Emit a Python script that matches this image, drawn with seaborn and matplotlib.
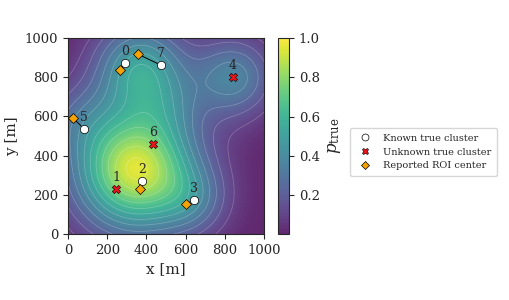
import numpy as np
import pandas as pd
import seaborn as sns
import matplotlib.pyplot as plt
from matplotlib.lines import Line2D

# cluster positions [m]
known_id = [0, 7, 2, 3, 5]
known_x = [291, 474, 378, 643, 82]
known_y = [872, 862, 270, 173, 536]

unknown_id = [1, 4, 6]
unknown_x = [245, 842, 434]
unknown_y = [230, 801, 459]

# reported ROI centres, one per known cluster (same order)
roi_x = [265, 357, 367, 602, 26]
roi_y = [837, 918, 230, 153, 592]

# gaussian bumps making up the p_true field
bump_x = [345, 370, 845, 40, 640, 520]
bump_y = [330, 845, 800, 590, 170, 650]
bump_amp = [0.94, 0.5, 0.36, 0.15, 0.2, 0.1]
bump_sig = [215, 165, 145, 130, 125, 120]

sns.set_style("ticks")
plt.rcParams['font.family'] = ['DejaVu Serif']
plt.rcParams['mathtext.fontset'] = 'dejavuserif'

gx = np.linspace(0, 1000, 201)
X, Y = np.meshgrid(gx, gx)
P = np.zeros_like(X)
for bx, by, a, s in zip(bump_x, bump_y, bump_amp, bump_sig):
    P += a * np.exp(-((X - bx) ** 2 + (Y - by) ** 2) / (2 * s ** 2))
P = np.clip(P, 0, 1)

fig = plt.figure(figsize=(5.1, 3.0), dpi=100)
ax = fig.add_axes([0.133, 0.22, 0.385, 0.653])
cax = fig.add_axes([0.545, 0.22, 0.022, 0.653])

im = ax.imshow(P, origin='lower', extent=[0, 1000, 0, 1000], cmap='viridis',
               vmin=P.min(), vmax=1.0, alpha=0.85, interpolation='bilinear')
ax.contour(X, Y, P, levels=np.arange(0.1, 1.0, 0.075), colors='white',
           linewidths=0.5, alpha=0.25)

for kx, ky, rx, ry in zip(known_x, known_y, roi_x, roi_y):
    ax.plot([kx, rx], [ky, ry], color='black', lw=0.7, zorder=3)

known = pd.DataFrame({'x': known_x, 'y': known_y})
unknown = pd.DataFrame({'x': unknown_x, 'y': unknown_y})
roi = pd.DataFrame({'x': roi_x, 'y': roi_y})
sns.scatterplot(data=known, x='x', y='y', ax=ax, marker='o', color='white',
                edgecolor='black', linewidth=0.5, s=36, zorder=4)
sns.scatterplot(data=unknown, x='x', y='y', ax=ax, marker='X', color='#e8141a',
                edgecolor='black', linewidth=0.4, s=36, zorder=4)
sns.scatterplot(data=roi, x='x', y='y', ax=ax, marker='D', color='#f5a300',
                edgecolor='black', linewidth=0.5, s=26, zorder=4)

for i, x, y in zip(known_id + unknown_id, known_x + unknown_x, known_y + unknown_y):
    ax.annotate(str(i), (x, y), xytext=(0, 3.5), textcoords='offset points',
                ha='center', va='bottom', fontsize=9)

ax.set_xlim(0, 1000)
ax.set_ylim(0, 1000)
ax.set_xticks(range(0, 1001, 200))
ax.set_yticks(range(0, 1001, 200))
ax.tick_params(labelsize=9.5)
ax.set_xlabel('x [m]', fontsize=11)
ax.set_ylabel('y [m]', fontsize=11)

cb = fig.colorbar(im, cax=cax)
cb.set_ticks([0.2, 0.4, 0.6, 0.8, 1.0])
cb.ax.tick_params(labelsize=9.5)
cb.set_label(r'$p_{\rm true}$', fontsize=12)
cb.outline.set_linewidth(0.8)

handles = [
    Line2D([], [], ls='', marker='o', mfc='white', mec='black', mew=0.5, ms=5),
    Line2D([], [], ls='', marker='X', mfc='#e8141a', mec='black', mew=0.4, ms=5),
    Line2D([], [], ls='', marker='D', mfc='#f5a300', mec='black', mew=0.5, ms=4.5),
]
fig.legend(handles, ['Known true cluster', 'Unknown true cluster', 'Reported ROI center'],
           loc='center', bbox_to_anchor=(0.83, 0.493), fontsize=7, frameon=True,
           handletextpad=0.8, borderpad=0.6)

fig.savefig('out.png', dpi=100)
